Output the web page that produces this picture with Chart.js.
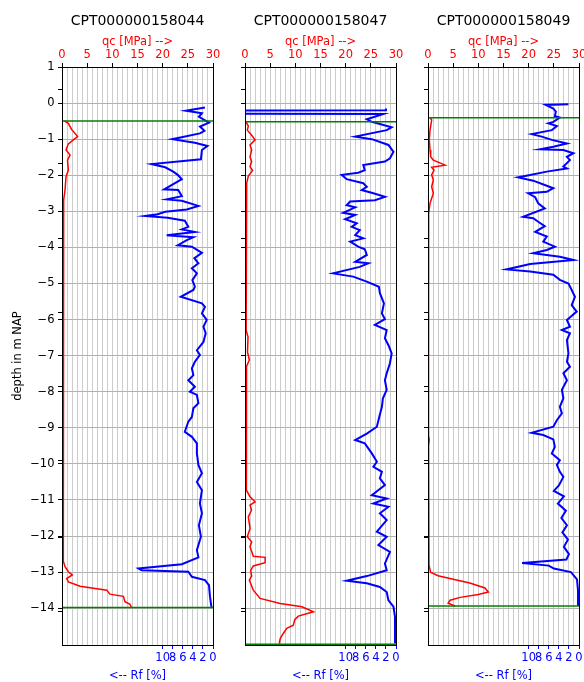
<!DOCTYPE html>
<html>
<head>
<meta charset="utf-8">
<script src="https://cdn.jsdelivr.net/npm/chart.js@4.4.0/dist/chart.umd.min.js"></script>
<style>
  html, body { margin: 0; padding: 0; background: #fff; }
  #wrap { position: relative; width: 584px; height: 682px; }
  canvas { position: absolute; top: 0; }
</style>
</head>
<body>
<div id="wrap">
  <canvas id="c1" width="225" height="682" style="left:0px"></canvas>
  <canvas id="c2" width="183" height="682" style="left:225px"></canvas>
  <canvas id="c3" width="176" height="682" style="left:408px"></canvas>
</div>
<script>
// ---------------- DATA ----------------

const titles = ['CPT000000158044', 'CPT000000158047', 'CPT000000158049'];

const qcTicks = [0,1,2,3,4,5,6,7,8,9,10,11,12,13,14,15,16,17,18,19,20,21,22,23,24,25,26,27,28,29,30];
const rfTicks = [0, 2, 4, 6, 8, 10];
const depthTicks = [1, 0, -1, -2, -3, -4, -5, -6, -7, -8, -9, -10, -11, -12, -13, -14];
const extraDepthTicks = [0.39, -1.68, -3.74, -5.8, -7.86, -9.92, -12.03, -14.08];

// sondering 1
const qcDepth1 = [-0.49,-0.56,-0.73,-0.93,-1.02,-1.13,-1.3,-1.44,-1.58,-1.86,-2.04,-2.41,-2.69,-3.33,-5.2,-8,-10,-12.7,-12.85,-12.99,-13.08,-13.18,-13.27,-13.39,-13.5,-13.61,-13.67,-13.82,-13.89,-13.98];
const qcValue1 = [0.47,1.26,1.9,3.1,2.25,1.26,0.8,1.6,1.1,1.26,0.8,0.6,0.33,0.27,0.25,0.25,0.25,0.3,0.6,1.26,2.05,0.93,1.26,3.6,8.9,9.5,12.2,12.5,13.5,13.8];
const rfDepth1 = [-0.12,-0.21,-0.28,-0.38,-0.54,-0.65,-0.77,-0.84,-1,-1.1,-1.19,-1.3,-1.56,-1.69,-1.78,-1.9,-1.99,-2.11,-2.39,-2.41,-2.58,-2.67,-2.71,-2.85,-2.95,-3.01,-3.08,-3.13,-3.18,-3.26,-3.43,-3.5,-3.57,-3.66,-3.72,-3.8,-3.94,-3.98,-4.15,-4.3,-4.44,-4.58,-4.72,-4.91,-5.09,-5.18,-5.37,-5.55,-5.65,-5.83,-6.01,-6.2,-6.38,-6.62,-6.85,-6.98,-7.17,-7.35,-7.54,-7.68,-7.86,-8,-8.09,-8.32,-8.46,-8.7,-8.83,-9.11,-9.25,-9.43,-9.71,-10.03,-10.26,-10.5,-10.73,-11.1,-11.37,-11.7,-12.02,-12.39,-12.59,-12.78,-12.9,-12.95,-12.99,-13.13,-13.22,-13.36,-13.68,-13.98];
const rfValue1 = [1.6,5.4,2.2,2.8,0.8,2.6,1.7,2.6,8.1,3.6,1.1,2.2,2.4,12.2,9.5,7.9,7,6.2,9.7,6.9,6.2,9.2,6.2,2.9,5.2,9.5,11,13.5,9,5.6,4.9,6.2,3.6,9.2,3.9,5.2,7,4.2,2.2,3.7,2.9,4.2,3.2,4.1,3.6,3.9,6.4,2.2,1.6,2.2,1.25,1.9,1.45,1.9,3.2,2.6,3.6,4.2,3.9,4.9,3.6,4.6,3.2,2.9,3.9,4.2,4.9,5.6,4.2,3.2,3.2,2.9,2.2,3.2,2.2,2.6,2.2,2.8,2.4,3.2,2.9,6.2,14.8,14.2,4.9,4.2,1.6,0.8,0.6,0.3];
const groundLines1 = [-0.5, -13.98];

// sondering 2
const qcDepth2 = [-0.52,-0.64,-0.75,-0.89,-1.02,-1.16,-1.3,-1.49,-1.62,-1.76,-1.87,-2.02,-2.22,-4,-6.3,-6.48,-6.9,-7.12,-7.3,-9,-10.73,-10.91,-11.05,-11.14,-11.28,-11.47,-11.79,-12.02,-12.16,-12.3,-12.56,-12.59,-12.74,-12.83,-12.95,-13.11,-13.22,-13.5,-13.73,-13.87,-13.96,-14.1,-14.22,-14.31,-14.47,-14.56,-14.7,-14.84,-14.98];
const qcValue2 = [0.2,0.66,0.46,1.32,2,1,1.32,1,1.32,1,1.5,0.66,0.33,0.2,0.25,0.6,0.5,0.86,0.3,0.25,0.3,1,2,1,1.3,0.66,1,0.46,1.32,1,1.65,4,4,1.65,1.13,1.32,0.86,1.65,3,7,11.3,13.6,10.6,9.9,9.6,8.3,7.6,7,6.8];
const rfDepth2 = [-0.15,-0.2,-0.21,-0.29,-0.3,-0.45,-0.52,-0.58,-0.67,-0.75,-0.93,-1,-1.16,-1.35,-1.53,-1.62,-1.72,-1.86,-1.93,-1.99,-2.11,-2.22,-2.32,-2.41,-2.5,-2.6,-2.69,-2.73,-2.83,-2.89,-3.04,-3.1,-3.22,-3.33,-3.43,-3.52,-3.66,-3.75,-3.84,-3.98,-4.05,-4.21,-4.4,-4.44,-4.54,-4.72,-4.81,-4.95,-5.09,-5.27,-5.55,-5.83,-5.99,-6.15,-6.29,-6.52,-6.71,-6.94,-7.21,-7.49,-7.68,-7.95,-8.18,-8.42,-8.69,-8.97,-9.16,-9.34,-9.43,-9.71,-9.94,-10.08,-10.22,-10.4,-10.59,-10.87,-10.96,-11.1,-11.19,-11.37,-11.56,-11.88,-12.02,-12.25,-12.44,-12.76,-12.95,-13.11,-13.24,-13.31,-13.41,-13.55,-13.78,-13.96,-14.24,-14.98];
const rfValue2 = [2,2,60,60,2.5,5.8,4.8,3.2,0.86,1.85,8.1,4.8,1.5,0.5,1.2,2.2,6.5,6.2,7.5,10.8,9.8,6.5,5.8,6.8,4.5,2.2,4.2,9.1,9.8,8.1,10.5,8.1,10.1,7.8,8.8,7.2,8.1,6.5,9.1,7.5,6.2,5.8,8.1,5.5,7.2,12.5,8.5,5.8,3.4,3.2,2.4,2.8,2.2,4.2,1.85,2.2,1.5,0.86,1.2,1.85,2.2,1.85,2.6,2.8,3.3,3.8,5.8,8.1,6.2,4.8,3.8,4.5,2.8,3.2,2.2,4.8,1.85,4.5,1.5,3.2,1.85,3.8,1.85,3.5,1.2,2.2,1.85,5.8,9.8,5.8,3.2,1.85,1.5,0.5,0.2,0.2];
const groundLines2 = [-0.52, -15.0];

// sondering 3
const qcDepth3 = [-0.4,-0.47,-0.75,-1.02,-1.3,-1.49,-1.58,-1.72,-1.78,-1.86,-1.99,-2.13,-2.32,-2.5,-2.78,-3.06,-6,-9.2,-9.34,-9.5,-12.8,-13,-13.1,-13.2,-13.3,-13.44,-13.55,-13.62,-13.7,-13.78,-13.86,-13.94];
const qcValue3 = [0.4,0.73,0.4,0.26,0.4,0.53,1.06,3.4,0.73,1.2,0.73,1.06,0.73,1.06,0.4,0.13,0.1,0.12,0.25,0.12,0.2,0.5,2,5,8.3,11.3,12,10,6.4,4.4,4,5.4];
const rfDepth3 = [-0.03,-0.05,-0.15,-0.24,-0.36,-0.4,-0.52,-0.56,-0.64,-0.75,-0.86,-0.93,-1.02,-1.12,-1.21,-1.28,-1.3,-1.39,-1.49,-1.58,-1.76,-1.81,-1.9,-2.06,-2.15,-2.27,-2.36,-2.46,-2.5,-2.61,-2.78,-2.92,-3.15,-3.19,-3.29,-3.41,-3.57,-3.7,-3.84,-3.98,-4.07,-4.16,-4.26,-4.35,-4.46,-4.61,-4.67,-4.76,-4.9,-5,-5.18,-5.37,-5.6,-5.78,-6.01,-6.2,-6.29,-6.38,-6.57,-6.94,-7.17,-7.31,-7.49,-7.68,-7.95,-8.18,-8.42,-8.6,-8.79,-8.97,-9.14,-9.2,-9.32,-9.53,-9.71,-9.9,-10.03,-10.22,-10.36,-10.6,-10.75,-10.9,-11.1,-11.3,-11.5,-11.7,-11.9,-12.1,-12.3,-12.5,-12.65,-12.75,-12.82,-12.9,-13,-13.2,-13.5,-13.94];
const rfValue3 = [2.1,6.6,5.1,4.6,4.8,3.8,5.1,6.1,4.4,5.4,9.4,7.4,5.4,2.4,5.1,7.7,3.1,1.1,2.4,1.8,3.1,2.4,6.4,12.1,9.1,6.8,5.1,6.4,10.1,8.7,8.1,6.8,11.1,9.1,8.1,6.8,8.7,6.4,7.1,4.8,6.4,9.1,3.8,1.1,9.7,14.4,9.7,5.1,3.8,2.1,1.45,0.8,1.45,0.46,2.4,1.8,3.4,1.8,2.4,2.1,2.4,1.8,3.1,2.4,3.4,3.1,3.8,3.4,4.4,5.1,9.4,7.1,5.1,4.8,5.4,3.8,4.4,3.8,3.1,4,5,3,4.2,2.6,3.5,2.4,3.3,2.2,3,2,2.5,11.3,6,5,1.6,0.4,0.2,0.2];
const groundLines3 = [-0.41, -13.94];

// ---------------- CHART ----------------

Chart.defaults.font.family = 'DejaVu Sans';
Chart.defaults.font.size = 11.5;
Chart.defaults.color = '#000';

const MINUS = '\u2212';

// kader rond het plotgebied, over de lijnen heen
const framePlugin = {
  id: 'frame',
  afterDatasetsDraw(chart) {
    const a = chart.chartArea, c = chart.ctx;
    const al = p => Math.round(p - 0.5) + 0.5;
    c.save();
    c.strokeStyle = '#000';
    c.lineWidth = 1;
    c.beginPath();
    c.moveTo(al(a.left), al(a.top));
    c.lineTo(al(a.right), al(a.top));
    c.lineTo(al(a.right), al(a.bottom));
    c.lineTo(al(a.left), al(a.bottom));
    c.closePath();
    c.stroke();
    c.restore();
  }
};

function makePanel(canvasId, title, qcDepth, qcValue, rfDepth, rfValue, groundLines, leftW, rightPad, showY) {
  const datasets = groundLines.map(d => ({
    data: [{x: 0, y: d}, {x: 30, y: d}],
    xAxisID: 'x', yAxisID: 'y',
    borderColor: '#007f00', borderWidth: 1.5,
    pointRadius: 0, showLine: true, clip: false
  }));
  datasets.push({
    data: rfDepth.map((d, i) => ({x: rfValue[i], y: d})),
    xAxisID: 'rf', yAxisID: 'y',
    borderColor: '#0000ff', borderWidth: 2,
    pointRadius: 0, showLine: true, clip: 0
  });
  datasets.push({
    data: qcDepth.map((d, i) => ({x: qcValue[i], y: d})),
    xAxisID: 'x', yAxisID: 'y',
    borderColor: '#ff0000', borderWidth: 1.5,
    pointRadius: 0, showLine: true, clip: 0
  });

  return new Chart(document.getElementById(canvasId), {
    type: 'scatter',
    data: { datasets },
    options: {
      responsive: false,
      devicePixelRatio: 1,
      animation: false,
      layout: { padding: { left: 0, right: rightPad, top: 0, bottom: 0 } },
      plugins: {
        legend: { display: false },
        tooltip: { enabled: false },
        title: {
          display: true, text: title, color: '#000', fullSize: false,
          font: { size: 14, weight: 'normal' },
          padding: { top: 13, bottom: 0 }
        }
      },
      scales: {
        x: {
          type: 'linear', position: 'top', min: 0, max: 30,
          afterBuildTicks: s => { s.ticks = qcTicks.map(v => ({value: v})); },
          afterFit: s => { s.height = 37.2; s.paddingLeft = 0; s.paddingRight = 0; },
          ticks: {
            color: '#ff0000', padding: 1, maxRotation: 0, autoSkip: false,
            callback: v => (v % 5 === 0 ? String(v) : '')
          },
          grid: {
            color: '#cccccc', lineWidth: 1, tickLength: 4,
            tickColor: ctx => (ctx.tick && ctx.tick.value % 5 === 0 ? '#000' : 'rgba(0,0,0,0)')
          },
          border: { display: true, color: '#000', width: 1 },
          title: { display: true, text: 'qc [MPa] -->', color: '#ff0000', padding: { top: 5.3, bottom: 0 } }
        },
        rf: {
          type: 'linear', position: 'bottom', min: 0, max: 30, reverse: true,
          afterBuildTicks: s => { s.ticks = rfTicks.map(v => ({value: v})); },
          afterFit: s => { s.height = 37; s.paddingLeft = 0; s.paddingRight = 0; },
          ticks: { color: '#0000ff', padding: 2, maxRotation: 0, autoSkip: false },
          grid: { drawOnChartArea: false, tickLength: 4, tickColor: '#0000ff' },
          border: { display: true, color: '#000', width: 1 },
          title: { display: true, text: '<-- Rf [%]', color: '#0000ff', padding: { top: 0, bottom: -1 } }
        },
        y: {
          type: 'linear', position: 'left', min: -15.02, max: 1,
          afterBuildTicks: s => {
            s.ticks = depthTicks.concat(extraDepthTicks).sort((a, b) => a - b).map(v => ({value: v}));
          },
          afterFit: s => { s.width = leftW; s.paddingTop = 0; s.paddingBottom = 0; },
          ticks: {
            color: '#000', padding: 3.5, autoSkip: false,
            callback: v => (showY && depthTicks.includes(v) ? String(v).replace('-', MINUS) : '')
          },
          grid: {
            color: ctx => (ctx.tick && Number.isInteger(ctx.tick.value) ? '#b0b0b0' : 'rgba(0,0,0,0)'),
            tickLength: 4, tickColor: '#000'
          },
          border: { display: true, color: '#000', width: 1 },
          title: { display: showY, text: 'depth in m NAP', color: '#000', padding: { top: 11, bottom: 0 } }
        }
      }
    },
    plugins: [framePlugin]
  });
}

makePanel('c1', titles[0], qcDepth1, qcValue1, rfDepth1, rfValue1, groundLines1, 62, 12, true);
makePanel('c2', titles[1], qcDepth2, qcValue2, rfDepth2, rfValue2, groundLines2, 20, 12, false);
makePanel('c3', titles[2], qcDepth3, qcValue3, rfDepth3, rfValue3, groundLines3, 20, 5, false);
</script>
</body>
</html>
